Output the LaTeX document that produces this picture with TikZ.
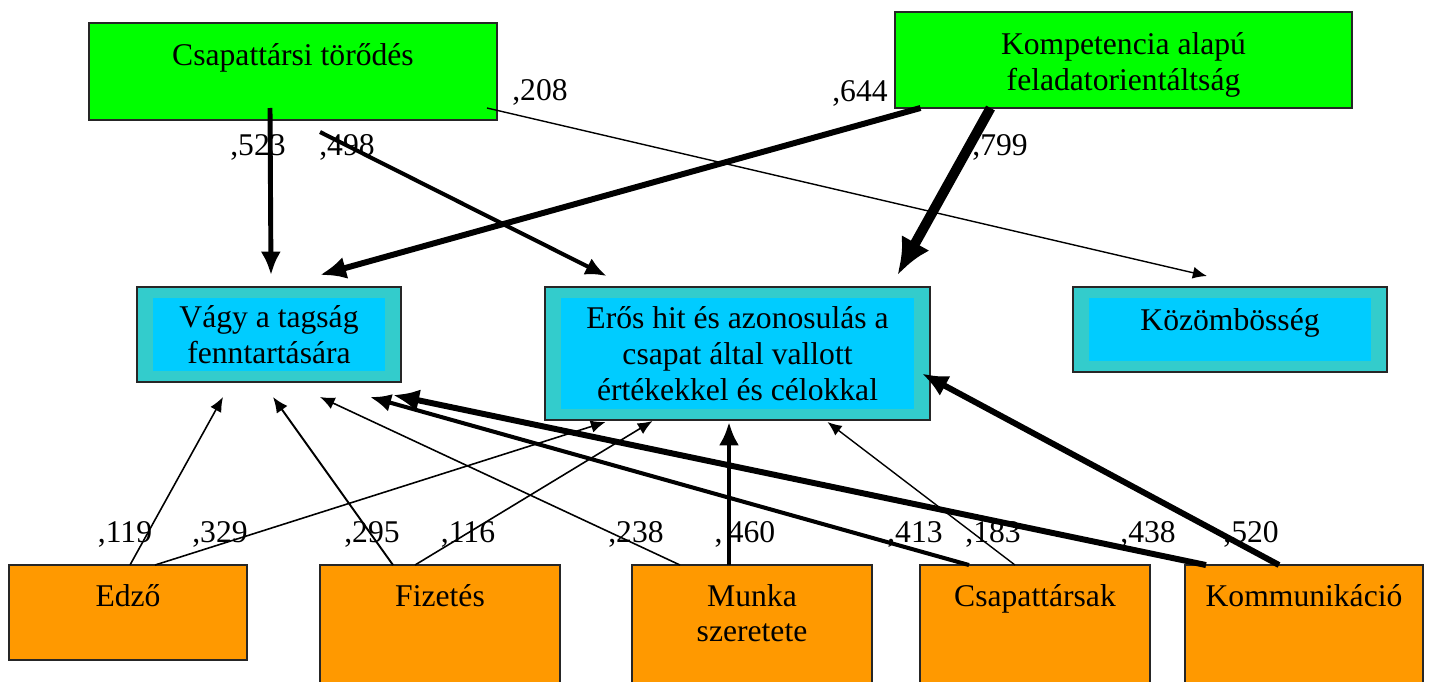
\documentclass[tikz,border=0pt]{standalone}
\usepackage{fontspec}
\setmainfont{Liberation Serif}
\usetikzlibrary{arrows.meta,calc}

\definecolor{boxgreen}{HTML}{00FF00}
\definecolor{boxteal}{HTML}{33CCCC}
\definecolor{boxblue}{HTML}{00CCFF}
\definecolor{boxorange}{HTML}{FF9900}

\tikzset{
  box/.style={draw=black!85, line width=1pt, inner sep=0pt, outer sep=0pt},
  topbox/.style={box, fill=boxgreen},
  midbox/.style={box, fill=boxteal, align=center,
    path picture={\fill[boxblue] ([shift={(0.32cm,-0.22cm)}]path picture bounding box.north west)
      rectangle ([shift={(-0.32cm,0.22cm)}]path picture bounding box.south east);}},
  lowbox/.style={box, fill=boxorange},
  txt/.style={inner sep=0pt, align=center, anchor=north},
  num/.style={inner sep=0pt},
  lnk/.style={-{Latex[length=6pt 2.6, width=5pt 2.3]}},
}

\begin{document}
\begin{tikzpicture}[x=0.02cm, y=-0.02cm, every node/.style={font=\fontsize{18}{20.3}\selectfont}]
\useasboundingbox (0,0) rectangle (1432,681);
\clip (0,0) rectangle (1432,681);

% factors on top
\node[topbox, minimum width=8.16cm, minimum height=1.94cm] (csap) at (293,71.5) {};
\node[txt] (csap-t) at ($(csap.north)+(0,20)$) {Csapattársi törődés};
\node[topbox, minimum width=9.14cm, minimum height=1.92cm] (komp) at (1123.5,60) {};
\node[txt] (komp-t) at ($(komp.north)+(0,20)$) {Kompetencia alapú\\feladatorientáltság};

% commitment types
\node[midbox, minimum width=5.28cm, minimum height=1.90cm] (vagy) at (269,334.5) {Vágy a tagság\\fenntartására};
\node[midbox, minimum width=7.70cm, minimum height=2.66cm] (eros) at (737.5,353.5) {Erős hit és azonosulás a\\csapat által vallott\\értékekkel és célokkal};
\node[midbox, minimum width=6.28cm, minimum height=1.70cm] (kozom) at (1230,329.5) {};
\node[txt] (kozom-t) at ($(kozom.north)+(0,21)$) {Közömbösség};

% sources at the bottom
\node[lowbox, minimum width=4.76cm, minimum height=1.90cm] (edzo) at (128,612.5) {};
\node[txt] (edzo-t) at ($(edzo.north)+(0,19)$) {Edző};
\node[lowbox, minimum width=4.80cm, minimum height=2.60cm] (fiz) at (440,630) {};
\node[txt] (fiz-t) at ($(fiz.north)+(0,19)$) {Fizetés};
\node[lowbox, minimum width=4.80cm, minimum height=2.60cm] (munka) at (752,630) {};
\node[txt] (munka-t) at ($(munka.north)+(0,19)$) {Munka\\szeretete};
\node[lowbox, minimum width=4.60cm, minimum height=2.60cm] (csapt) at (1035,630) {};
\node[txt] (csapt-t) at ($(csapt.north)+(0,19)$) {Csapattársak};
\node[lowbox, minimum width=4.76cm, minimum height=2.60cm] (komm) at (1304,630) {};
\node[txt] (komm-t) at ($(komm.north)+(0,19)$) {Kommunikáció};

% paths from the top
\draw[lnk, line width=2.8pt] ($(csap.south)+(-23,-12)$) -- ($(vagy.north)+(2,-12)$);
\draw[lnk, line width=2.3pt] ($(csap.south)+(27,12)$) -- ($(eros.north)+(-131,-11)$);
\draw[lnk, line width=0.8pt] ($(csap.south east)+(-10,-12)$) -- ($(kozom.north)+(-23,-11)$);
\draw[lnk, line width=3.4pt] ($(komp.south)+(-203,0)$) -- ($(vagy.north)+(51,-12)$);
\draw[lnk, line width=5.7pt] ($(komp.south)+(-133,0)$) -- ($(eros.north)+(160,-12)$);

% paths from the bottom
\draw[lnk, line width=0.9pt] ($(edzo.north)+(2,0)$) -- ($(vagy.south)+(-46,15)$);
\draw[lnk, line width=0.9pt] ($(edzo.north)+(27,0)$) -- ($(eros.south)+(-132,2)$);
\draw[lnk, line width=1.1pt] ($(fiz.north)+(-47,0)$) -- ($(vagy.south)+(4,15)$);
\draw[lnk, line width=0.9pt] ($(fiz.north)+(-25,0)$) -- ($(eros.south)+(-85,1)$);
\draw[lnk, line width=0.9pt] ($(munka.north)+(-72,0)$) -- ($(vagy.south)+(51,15)$);
\draw[lnk, line width=2.8pt] ($(munka.north)+(-23,0)$) -- ($(eros.south)+(-8.5,2)$);
\draw[lnk, line width=2.3pt] ($(csapt.north)+(-66,0)$) -- ($(vagy.south)+(101,15)$);
\draw[lnk, line width=0.8pt] ($(csapt.north)+(-20,0)$) -- ($(eros.south)+(90,2)$);
\draw[lnk, line width=3.4pt] ($(komm.north)+(-98,0)$) -- ($(vagy.south)+(124,13)$);
\draw[lnk, line width=3.4pt] ($(komm.north)+(-25,0)$) -- ($(eros.east)+(-8,20)$);

% coefficients
\node[num] (n208) at (540,92) {,208};
\node[num] (n644) at (860,93) {,644};
\node[num] (n523) at (258,147) {,523};
\node[num] (n498) at (347,147) {,498};
\node[num] (n799) at (1000,147) {,799};
\node[num] (n119) at (125,534) {,119};
\node[num] (n329) at (220,534) {,329};
\node[num] (n295) at (372,534) {,295};
\node[num] (n116) at (468,534) {,116};
\node[num] (n238) at (636,534) {,238};
\node[num] (n460) at (745,534) {,\,460};
\node[num] (n413) at (915,534) {,413};
\node[num] (n183) at (993,534) {,183};
\node[num] (n438) at (1148,534) {,438};
\node[num] (n520) at (1251,534) {,520};
\end{tikzpicture}
\end{document}
